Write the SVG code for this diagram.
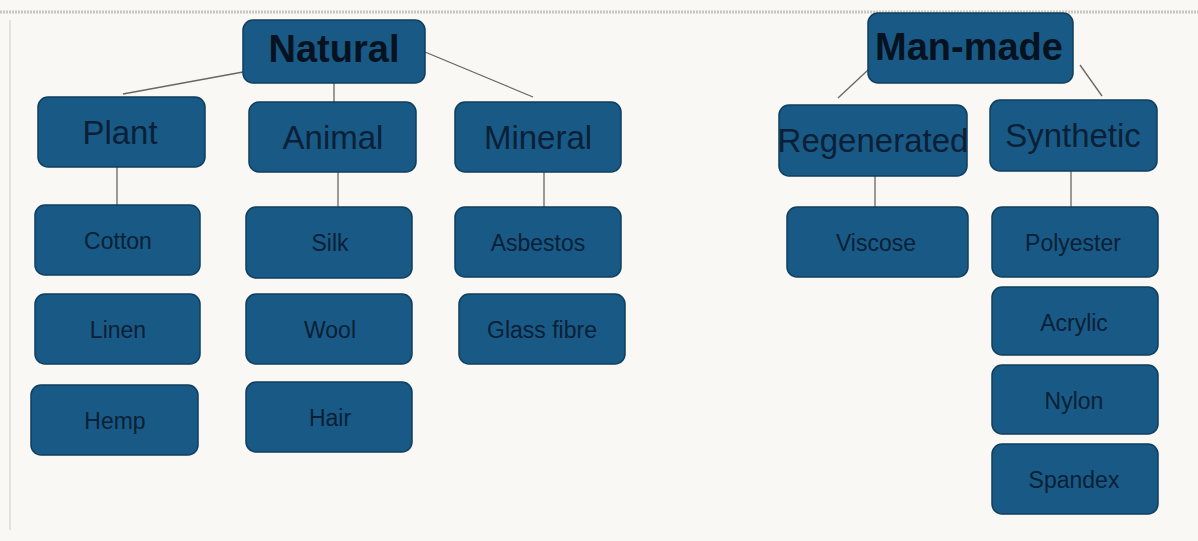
<svg xmlns="http://www.w3.org/2000/svg" width="1198" height="541" viewBox="0 0 1198 541">
<style>
.bx{fill:#185a85;stroke:#0f3e5e;stroke-width:1.5}
text{font-family:"Liberation Sans",Arial,sans-serif;fill:#0b2036;text-anchor:middle;dominant-baseline:central}
.t{font-size:38px;font-weight:bold;fill:#06121f}
.c{font-size:33px}
.l{font-size:23px}
.cn{stroke:#6b6660;stroke-width:1.3;fill:none}
</style>
<rect width="1198" height="541" fill="#f9f8f5"/>
<line x1="0" y1="12" x2="1198" y2="12" stroke="#c8c6c2" stroke-width="3" stroke-dasharray="2 1"/>
<line x1="10" y1="20" x2="10" y2="530" stroke="#e4e2de" stroke-width="2"/>
<g id="connectors">
<line class="cn" x1="243" y1="72" x2="123" y2="94"/>
<line class="cn" x1="334" y1="83" x2="334" y2="102"/>
<line class="cn" x1="425" y1="52" x2="533" y2="97"/>
<line class="cn" x1="117" y1="167" x2="117" y2="205"/>
<line class="cn" x1="338" y1="172" x2="338" y2="207"/>
<line class="cn" x1="544" y1="172" x2="544" y2="207"/>
<line class="cn" x1="868" y1="70" x2="838" y2="98"/>
<line class="cn" x1="1080" y1="65" x2="1102" y2="96"/>
<line class="cn" x1="875" y1="176" x2="875" y2="207"/>
<line class="cn" x1="1071" y1="171" x2="1071" y2="207"/>
</g>
<g id="natural"><rect class="bx" x="243" y="20" width="182" height="63" rx="10"/><text class="t" x="334" y="49">Natural</text></g>
<g id="plant"><rect class="bx" x="38" y="97" width="167" height="70" rx="10"/><text class="c" x="120" y="132">Plant</text></g>
<g id="animal"><rect class="bx" x="249" y="102" width="167" height="70" rx="10"/><text class="c" x="333" y="137">Animal</text></g>
<g id="mineral"><rect class="bx" x="455" y="102" width="166" height="70" rx="10"/><text class="c" x="538" y="137">Mineral</text></g>
<g id="cotton"><rect class="bx" x="35" y="205" width="165" height="70" rx="10"/><text class="l" x="118" y="241">Cotton</text></g>
<g id="linen"><rect class="bx" x="35" y="294" width="165" height="70" rx="10"/><text class="l" x="118" y="330">Linen</text></g>
<g id="hemp"><rect class="bx" x="31" y="385" width="167" height="70" rx="10"/><text class="l" x="115" y="421">Hemp</text></g>
<g id="silk"><rect class="bx" x="246" y="207" width="166" height="71" rx="10"/><text class="l" x="330" y="243">Silk</text></g>
<g id="wool"><rect class="bx" x="246" y="294" width="166" height="70" rx="10"/><text class="l" x="330" y="330">Wool</text></g>
<g id="hair"><rect class="bx" x="246" y="382" width="166" height="70" rx="10"/><text class="l" x="330" y="418">Hair</text></g>
<g id="asbestos"><rect class="bx" x="455" y="207" width="166" height="70" rx="10"/><text class="l" x="538" y="243">Asbestos</text></g>
<g id="glassfibre"><rect class="bx" x="459" y="294" width="166" height="70" rx="10"/><text class="l" x="542" y="330">Glass fibre</text></g>
<g id="manmade"><rect class="bx" x="868" y="13" width="205" height="70" rx="10"/><text class="t" x="969" y="47">Man-made</text></g>
<g id="regenerated"><rect class="bx" x="779" y="105" width="188" height="71" rx="10"/><text class="c" x="873" y="140">Regenerated</text></g>
<g id="synthetic"><rect class="bx" x="990" y="100" width="167" height="71" rx="10"/><text class="c" x="1073" y="135">Synthetic</text></g>
<g id="viscose"><rect class="bx" x="787" y="207" width="181" height="70" rx="10"/><text class="l" x="876" y="243">Viscose</text></g>
<g id="polyester"><rect class="bx" x="992" y="207" width="166" height="70" rx="10"/><text class="l" x="1073" y="243">Polyester</text></g>
<g id="acrylic"><rect class="bx" x="992" y="287" width="166" height="68" rx="10"/><text class="l" x="1074" y="323">Acrylic</text></g>
<g id="nylon"><rect class="bx" x="992" y="365" width="166" height="69" rx="10"/><text class="l" x="1074" y="401">Nylon</text></g>
<g id="spandex"><rect class="bx" x="992" y="444" width="166" height="70" rx="10"/><text class="l" x="1074" y="480">Spandex</text></g>
</svg>
